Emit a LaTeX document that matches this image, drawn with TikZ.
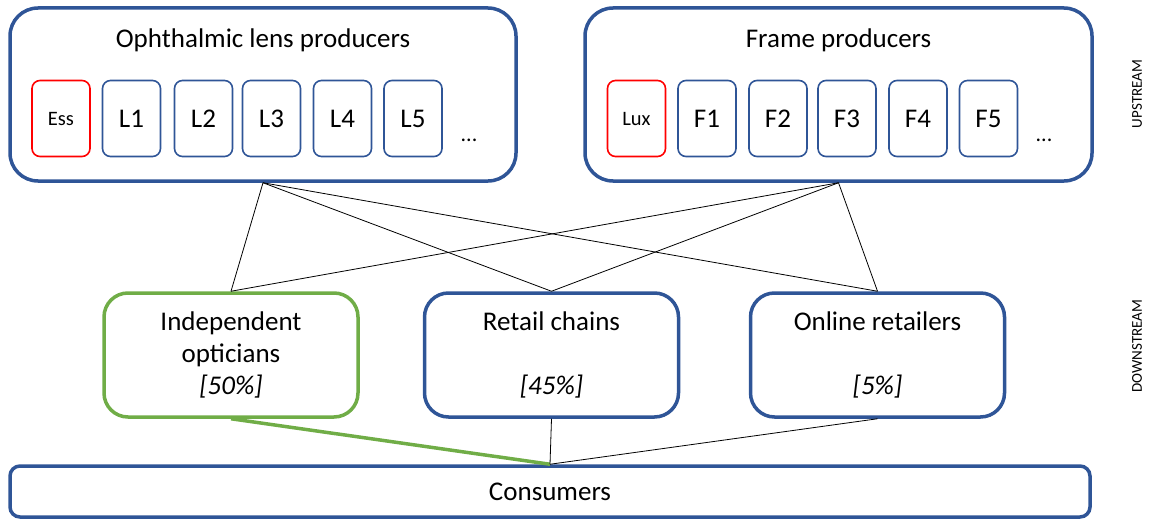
\documentclass[tikz,border=0pt]{standalone}
\usepackage{fontspec}
\setmainfont{Carlito}
\definecolor{mktblue}{RGB}{47,85,151}
\definecolor{mktgreen}{RGB}{112,173,71}
\tikzset{
  bigbox/.style={draw=mktblue, line width=3.5pt, rounded corners=28pt, inner sep=0pt},
  firmbox/.style={draw=mktblue, line width=1.6pt, rounded corners=8pt, minimum width=58pt, minimum height=76pt, inner sep=0pt, font=\fontsize{27}{27}\selectfont},
  brandbox/.style={firmbox, draw=red, font=\fontsize{20.5}{20.5}\selectfont},
  shopbox/.style={draw=mktblue, line width=3.5pt, rounded corners=24pt, minimum width=254pt, minimum height=124pt, inner sep=0pt, align=center, font=\fontsize{27}{32}\selectfont},
  link/.style={black, line width=0.8pt},
  side/.style={rotate=90, font=\fontsize{15}{15}\selectfont}
}

\begin{document}
\begin{tikzpicture}[x=1pt, y=-1pt]
\useasboundingbox (0,0) rectangle (1155,519);
% upstream
\node[bigbox, minimum width=506pt, minimum height=173pt] (lens) at (263,94.5) {};
\node[font=\fontsize{27}{27}\selectfont] (lenstitle) at (263,40) {Ophthalmic lens producers};
\node[brandbox] (ess) at (61,118.5) {Ess};
\node[firmbox] (l1) at (131.5,118.5) {L1};
\node[firmbox] (l2) at (203.5,118.5) {L2};
\node[firmbox] (l3) at (271.5,118.5) {L3};
\node[firmbox] (l4) at (342.5,118.5) {L4};
\node[firmbox] (l5) at (413,118.5) {L5};
\node[font=\fontsize{22}{22}\selectfont] (ldots) at (469,140) {...};

\node[bigbox, minimum width=507pt, minimum height=173pt] (frame) at (838.5,94.5) {};
\node[font=\fontsize{27}{27}\selectfont] (frametitle) at (838.5,40) {Frame producers};
\node[brandbox] (lux) at (636.5,118.5) {Lux};
\node[firmbox] (f1) at (707,118.5) {F1};
\node[firmbox] (f2) at (778,118.5) {F2};
\node[firmbox] (f3) at (847,118.5) {F3};
\node[firmbox] (f4) at (918,118.5) {F4};
\node[firmbox] (f5) at (988.5,118.5) {F5};
\node[font=\fontsize{22}{22}\selectfont] (fdots) at (1044,140) {...};

% downstream
\node[shopbox, draw=mktgreen] (indep) at (231,355) {Independent\\opticians\\\textit{[50\%]}};
\node[shopbox] (retail) at (551.5,355) {Retail chains\\ \\\textit{[45\%]}};
\node[shopbox] (online) at (877.5,355) {Online retailers\\ \\\textit{[5\%]}};
\node[draw=mktblue, line width=3.5pt, rounded corners=10pt, minimum width=1080pt, minimum height=51pt, inner sep=0pt, font=\fontsize{27}{27}\selectfont] (cons) at (550,491.5) {Consumers};

\node[side] (up) at (1137,94) {UPSTREAM};
\node[side] (down) at (1137,346) {DOWNSTREAM};

% links
\draw[link] (lens.south) -- (indep.north);
\draw[link] (lens.south) -- (retail.north);
\draw[link] (lens.south) -- (online.north);
\draw[link] (frame.south) -- (indep.north);
\draw[link] (frame.south) -- (retail.north);
\draw[link] (frame.south) -- (online.north);
\draw[mktgreen, line width=3.5pt] (indep.south) -- (cons.north);
\draw[link] (retail.south) -- (cons.north);
\draw[link] (online.south) -- (cons.north);
\end{tikzpicture}
\end{document}
